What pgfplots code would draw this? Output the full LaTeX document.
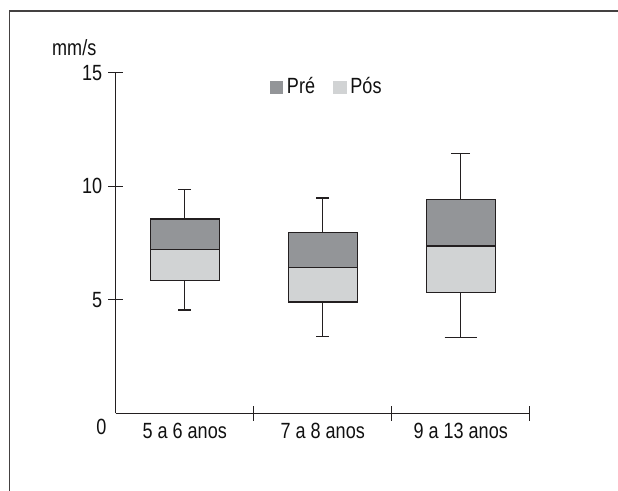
\documentclass[border=0pt]{standalone}
\usepackage{fontspec}
\setmainfont{Liberation Sans}[FakeStretch=0.82]
\usepackage{pgfplots}
\pgfplotsset{compat=1.18}
\usepgfplotslibrary{statistics}
\definecolor{colpre}{HTML}{939598}
\definecolor{colpos}{HTML}{D1D3D4}
\definecolor{ink}{HTML}{231F20}
\definecolor{txt}{HTML}{111111}
\begin{document}
\fontsize{22bp}{26bp}\selectfont
\begin{tikzpicture}[x=1bp,y=1bp]
\useasboundingbox (0,0) rectangle (618,491);
\fill[white] (0,0) rectangle (618,491);
\draw[line width=1.5bp, color=ink!85] (9.5,0) -- (9.5,480.2) -- (618,480.2);
\begin{axis}[
  at={(115.7bp,77.7bp)}, anchor=south west,
  scale only axis, width=414bp, height=340.6bp,
  xmin=0.5, xmax=3.5, ymin=0, ymax=15,
  axis x line=bottom, axis y line=left,
  axis line style={-, draw=ink, line width=1.2bp},
  every tick/.style={draw=ink, line width=1.2bp},
  tick align=center,
  major tick length=15bp,
  /pgf/number format/assume math mode=true,
  ticklabel style={text=txt, font=\fontsize{22bp}{26bp}\selectfont},
  ytick={5,10,15},
  y tick label style={xshift=1.5bp},
  xtick={1.5,2.5,3.5}, xticklabels={},
  extra x ticks={1,2,3},
  extra x tick labels={5 a 6 anos, 7 a 8 anos, 9 a 13 anos},
  extra x tick style={tick style={draw=none}, x tick label style={yshift=5bp}},
  boxplot/draw direction=y,
  legend columns=2,
  legend style={draw=none, fill=none, at={(0.364,0.998)}, anchor=north west,
    font=\fontsize{22bp}{26bp}\selectfont, text=txt,
    /tikz/every even column/.append style={column sep=16bp},
    /tikz/every odd column/.append style={column sep=2.5bp}},
  clip=false,
]
\addplot[forget plot, draw=ink, line width=1.2bp, fill=colpos,
  boxplot prepared={draw position=1, box extend=0.5, whisker extend=0.092,
    lower whisker=4.55, lower quartile=5.86, median=5.86, upper quartile=7.20, upper whisker=7.20}] coordinates {};
\addplot[forget plot, draw=ink, line width=1.2bp, fill=colpre,
  boxplot prepared={draw position=1, box extend=0.5, whisker extend=0.092,
    lower whisker=7.20, lower quartile=7.20, median=7.20, upper quartile=8.56, upper whisker=9.86}] coordinates {};
\addplot[forget plot, draw=ink, line width=1.2bp, fill=colpos,
  boxplot prepared={draw position=2, box extend=0.5, whisker extend=0.092,
    lower whisker=3.39, lower quartile=4.90, median=4.90, upper quartile=6.41, upper whisker=6.41}] coordinates {};
\addplot[forget plot, draw=ink, line width=1.2bp, fill=colpre,
  boxplot prepared={draw position=2, box extend=0.5, whisker extend=0.096,
    lower whisker=6.41, lower quartile=6.41, median=6.41, upper quartile=7.95, upper whisker=9.48}] coordinates {};
\addplot[forget plot, draw=ink, line width=1.2bp, fill=colpos,
  boxplot prepared={draw position=3, box extend=0.5, whisker extend=0.232,
    lower whisker=3.33, lower quartile=5.33, median=5.33, upper quartile=7.37, upper whisker=7.37}] coordinates {};
\addplot[forget plot, draw=ink, line width=1.2bp, fill=colpre,
  boxplot prepared={draw position=3, box extend=0.5, whisker extend=0.138,
    lower whisker=7.37, lower quartile=7.37, median=7.37, upper quartile=9.42, upper whisker=11.43}] coordinates {};
\addlegendimage{legend image code/.code={\fill[colpre] (0bp,-0.5ex) rectangle ++(12.5bp,11.7bp);}}
\addlegendentry{Pré}
\addlegendimage{legend image code/.code={\fill[colpos] (0bp,-0.5ex) rectangle ++(12.5bp,11.7bp);}}
\addlegendentry{Pós}
\end{axis}
\node[anchor=base west, text=txt, inner sep=0pt] at (52,435.5) {mm/s};
\node[anchor=center, text=txt, inner sep=0pt] at (101.5,64) {0};
\end{tikzpicture}
\end{document}
